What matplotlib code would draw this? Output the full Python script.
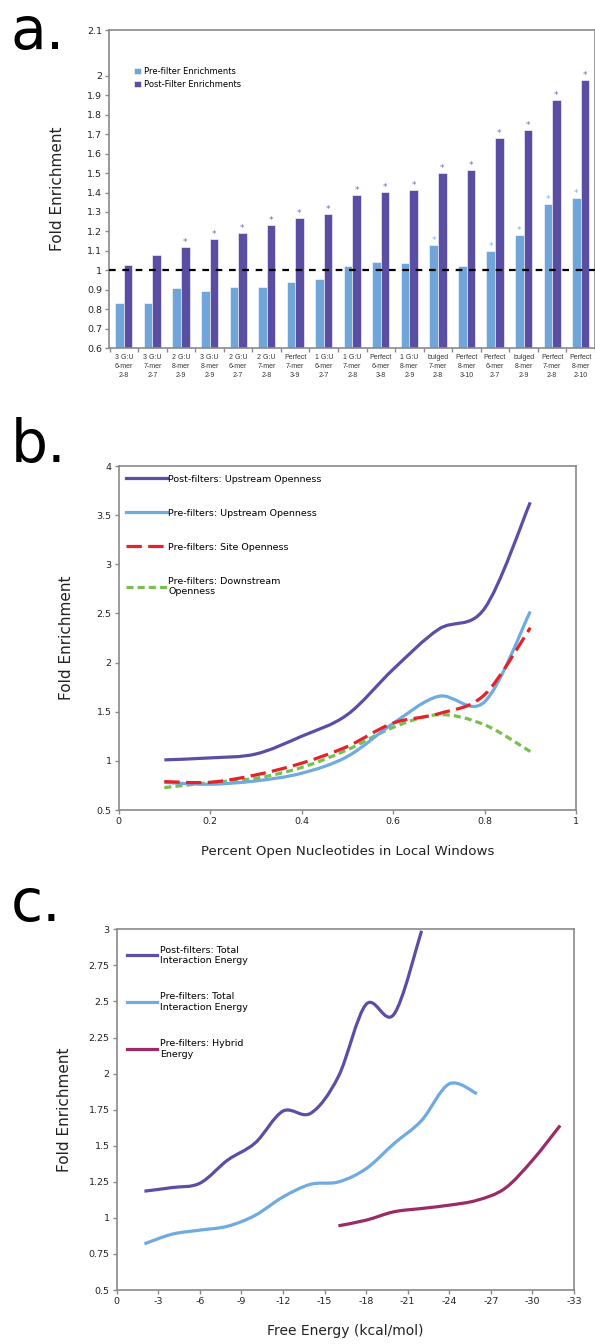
import numpy as np
import matplotlib
matplotlib.use("Agg")
import matplotlib.pyplot as plt
from matplotlib.path import Path
from matplotlib.patches import PathPatch, Patch
from matplotlib.lines import Line2D

plt.rcParams['font.family'] = ['DejaVu Sans']

# ---------------- Panel a data ----------------
categories = ["3 G:U\n6-mer\n2-8", "3 G:U\n7-mer\n2-7", "2 G:U\n8-mer\n2-9", "3 G:U\n8-mer\n2-9",
              "2 G:U\n6-mer\n2-7", "2 G:U\n7-mer\n2-8", "Perfect\n7-mer\n3-9", "1 G:U\n6-mer\n2-7",
              "1 G:U\n7-mer\n2-8", "Perfect\n6-mer\n3-8", "1 G:U\n8-mer\n2-9", "bulged\n7-mer\n2-8",
              "Perfect\n8-mer\n3-10", "Perfect\n6-mer\n2-7", "bulged\n8-mer\n2-9", "Perfect\n7-mer\n2-8",
              "Perfect\n8-mer\n2-10"]
pre_filter = [0.83, 0.83, 0.91, 0.895, 0.913, 0.915, 0.94, 0.953, 1.022, 1.041, 1.04,
              1.13, 1.02, 1.10, 1.182, 1.343, 1.372]
post_filter = [1.027, 1.081, 1.118, 1.161, 1.193, 1.232, 1.27, 1.292, 1.385, 1.403, 1.411,
               1.50, 1.515, 1.68, 1.724, 1.877, 1.98]
pre_sig = [False] * 11 + [True, False, True, True, True, True]
post_sig = [False, False] + [True] * 15
a_yticks = [0.6, 0.7, 0.8, 0.9, 1.0, 1.1, 1.2, 1.3, 1.4, 1.5, 1.6, 1.7, 1.8, 1.9, 2.0]
a_ytick_labels = ["0.6", "0.7", "0.8", "0.9", "1", "1.1", "1.2", "1.3", "1.4", "1.5",
                  "1.6", "1.7", "1.8", "1.9", "2"]
a_top_label = "2.1"
baseline_value = 1.0

# ---------------- Panel b data ----------------
b_x = [0.1, 0.2, 0.3, 0.4, 0.5, 0.6, 0.7, 0.8, 0.9]
b_post_up = [1.01, 1.03, 1.07, 1.25, 1.47, 1.93, 2.34, 2.55, 3.63]
b_pre_up = [0.78, 0.762, 0.796, 0.874, 1.044, 1.38, 1.657, 1.60, 2.52]
b_pre_site = [0.789, 0.782, 0.857, 0.976, 1.146, 1.384, 1.48, 1.673, 2.354]
b_pre_down = [0.728, 0.779, 0.823, 0.932, 1.112, 1.34, 1.47, 1.367, 1.095]

# ---------------- Panel c data ----------------
c_x_post = [-2, -4, -6, -8, -10, -12, -14, -16, -18, -20, -22]
c_post = [1.185, 1.21, 1.24, 1.40, 1.52, 1.74, 1.725, 1.98, 2.48, 2.41, 2.99]
c_x_pre = [-2, -4, -6, -8, -10, -12, -14, -16, -18, -20, -22, -24, -26]
c_pre = [0.82, 0.887, 0.915, 0.942, 1.018, 1.145, 1.233, 1.249, 1.341, 1.514, 1.675, 1.929, 1.86]
c_x_hyb = [-16, -18, -20, -22, -24, -26, -28, -30, -32]
c_hyb = [0.945, 0.984, 1.042, 1.065, 1.088, 1.122, 1.203, 1.399, 1.64]

# ---------------- styling ----------------
PRE_BAR = '#6FA5D9'
POST_BAR = '#5A4EA2'
PURPLE = '#5A4FA6'
LBLUE = '#6FAAE0'
RED = '#E52228'
GREEN = '#77C04E'
MAROON = '#9C2A67'
SPINE = '#8A8A8A'
TXT = '#222222'

W, H = 595, 1344
fig = plt.figure(figsize=(W / 100, H / 100), dpi=100)


def rect(left, top, right, bottom):
    return [left / W, 1 - bottom / H, (right - left) / W, (bottom - top) / H]


def style_axes(ax):
    for s in ax.spines.values():
        s.set_color(SPINE)
        s.set_linewidth(1.2)
    ax.tick_params(axis='both', which='both', direction='out', color=SPINE,
                   length=3, width=1, labelcolor=TXT, labelsize=6.8, pad=2)


def smooth_path(xs, ys):
    # Bezier smoothing through the data points (Excel-style smoothed line)
    n = len(xs)
    px = list(xs)
    py = list(ys)
    verts = [(px[0], py[0])]
    codes = [Path.MOVETO]
    for i in range(n - 1):
        i0 = max(i - 1, 0)
        i3 = min(i + 2, n - 1)
        c1 = (px[i] + (px[i + 1] - px[i0]) / 6.0, py[i] + (py[i + 1] - py[i0]) / 6.0)
        c2 = (px[i + 1] - (px[i3] - px[i]) / 6.0, py[i + 1] - (py[i3] - py[i]) / 6.0)
        verts += [c1, c2, (px[i + 1], py[i + 1])]
        codes += [Path.CURVE4] * 3
    return Path(verts, codes)


def add_smooth(ax, xs, ys, color, lw, dashes=None):
    patch = PathPatch(smooth_path(xs, ys), fill=False, edgecolor=color, lw=lw,
                      capstyle='butt', joinstyle='round')
    if dashes is not None:
        patch.set_linestyle((0, dashes))
    ax.add_patch(patch)


# ================= Panel a =================
axa = fig.add_axes(rect(109, 30, 595, 348))
style_axes(axa)
x = np.arange(len(categories))
bw = 0.3
axa.bar(x - bw / 2, pre_filter, bw, color=PRE_BAR, edgecolor='white', linewidth=0.4,
        label='Pre-filter Enrichments', zorder=2)
axa.bar(x + bw / 2, post_filter, bw, color=POST_BAR, edgecolor='white', linewidth=0.4,
        label='Post-Filter Enrichments', zorder=2)
for i in range(len(categories)):
    if pre_sig[i]:
        axa.annotate('*', xy=(x[i] - bw / 2, pre_filter[i]), xytext=(0, 0),
                     textcoords='offset points', ha='center', va='bottom',
                     fontsize=6.5, color='#7FB2E5')
    if post_sig[i]:
        axa.annotate('*', xy=(x[i] + bw / 2, post_filter[i]), xytext=(0, 0),
                     textcoords='offset points', ha='center', va='bottom',
                     fontsize=6.5, color='#7468BE')
axa.axhline(baseline_value, color='black', lw=1.6, ls=(0, (3, 3)), zorder=3)
# y-axis: frame top drawn as in the reference (2.1 label at the frame top)
a_top = a_yticks[-1] + 46 / 194.3
axa.set_ylim(a_yticks[0], a_top)
axa.set_yticks(a_yticks + [a_top])
axa.set_yticklabels(a_ytick_labels + [a_top_label])
axa.set_xlim(-0.52, 16.41)
axa.set_xticks(x)
axa.set_xticklabels(categories, fontsize=5.0, family=['Liberation Sans'], color='#333333',
                    linespacing=1.45)
axa.tick_params(axis='x', which='major', length=0, pad=4)
axa.set_xticks(np.arange(-0.5, len(categories), 1.0), minor=True)
axa.tick_params(axis='x', which='minor', length=3, color=SPINE)
axa.set_ylabel('Fold Enrichment', fontsize=11, color=TXT, labelpad=16)
axa.legend(loc='upper left', bbox_to_anchor=(0.052, 0.885), frameon=False, fontsize=6,
           handlelength=0.75, handleheight=0.75, handletextpad=0.4, labelspacing=0.55,
           borderaxespad=0, borderpad=0)

# ================= Panel b =================
axb = fig.add_axes(rect(118.6, 466, 576, 810))
style_axes(axb)
add_smooth(axb, b_x, b_pre_down, GREEN, 2.3, dashes=(2.2, 1.3))
add_smooth(axb, b_x, b_pre_up, LBLUE, 2.3)
add_smooth(axb, b_x, b_pre_site, RED, 2.3, dashes=(4.8, 2.0))
add_smooth(axb, b_x, b_post_up, PURPLE, 2.3)
axb.set_xlim(0, 1)
axb.set_ylim(0.5, 4)
axb.set_xticks([0, 0.2, 0.4, 0.6, 0.8, 1.0])
axb.set_xticklabels(['0', '0.2', '0.4', '0.6', '0.8', '1'])
axb.set_yticks([0.5, 1, 1.5, 2, 2.5, 3, 3.5, 4])
axb.set_yticklabels(['0.5', '1', '1.5', '2', '2.5', '3', '3.5', '4'])
axb.set_ylabel('Fold Enrichment', fontsize=11, color=TXT, labelpad=16)
axb.set_xlabel('Percent Open Nucleotides in Local Windows', fontsize=9.6, color=TXT, labelpad=14)
hb = [Line2D([], [], color=PURPLE, lw=2.3),
      Line2D([], [], color=LBLUE, lw=2.3),
      Line2D([], [], color=RED, lw=2.3, ls=(0, (4.8, 2.0))),
      Line2D([], [], color=GREEN, lw=2.3, ls=(0, (2.2, 1.3)))]
lb = ['Post-filters: Upstream Openness', 'Pre-filters: Upstream Openness',
      'Pre-filters: Site Openness', 'Pre-filters: Downstream\nOpenness']
axb.legend(hb, lb, loc='upper left', bbox_to_anchor=(0.016, 0.975), frameon=False,
           fontsize=6.8, handlelength=4.3, handletextpad=0.2, labelspacing=2.65,
           borderaxespad=0, borderpad=0)

# ================= Panel c =================
axc = fig.add_axes(rect(116.7, 929.3, 574, 1290))
style_axes(axc)
add_smooth(axc, c_x_hyb, c_hyb, MAROON, 2.3)
add_smooth(axc, c_x_pre, c_pre, LBLUE, 2.3)
add_smooth(axc, c_x_post, c_post, PURPLE, 2.3)
axc.set_xlim(0, -33)
axc.set_ylim(0.5, 3)
c_xt = [0, -3, -6, -9, -12, -15, -18, -21, -24, -27, -30, -33]
axc.set_xticks(c_xt)
axc.set_xticklabels([str(v) for v in c_xt])
c_yt = [0.5, 0.75, 1, 1.25, 1.5, 1.75, 2, 2.25, 2.5, 2.75, 3]
axc.set_yticks(c_yt)
axc.set_yticklabels(['0.5', '0.75', '1', '1.25', '1.5', '1.75', '2', '2.25', '2.5', '2.75', '3'])
axc.set_ylabel('Fold Enrichment', fontsize=11, color=TXT, labelpad=12)
axc.set_xlabel('Free Energy (kcal/mol)', fontsize=10, color=TXT, labelpad=13)
hc = [Line2D([], [], color=PURPLE, lw=2.3),
      Line2D([], [], color=LBLUE, lw=2.3),
      Line2D([], [], color=MAROON, lw=2.3)]
lc = ['Post-filters: Total\nInteraction Energy', 'Pre-filters: Total\nInteraction Energy',
      'Pre-filters: Hybrid\nEnergy']
axc.legend(hc, lc, loc='upper left', bbox_to_anchor=(0.022, 0.955), frameon=False,
           fontsize=6.8, handlelength=3.2, handletextpad=0.3, labelspacing=2.9,
           borderaxespad=0, borderpad=0)

# Panel letters
fig.text(11 / W, 1 - 49 / H, 'a.', fontsize=42, va='baseline', ha='left', color='black')
fig.text(11 / W, 1 - 462 / H, 'b.', fontsize=42, va='baseline', ha='left', color='black')
fig.text(11 / W, 1 - 921 / H, 'c.', fontsize=42, va='baseline', ha='left', color='black')

fig.savefig('out.png', dpi=100)
